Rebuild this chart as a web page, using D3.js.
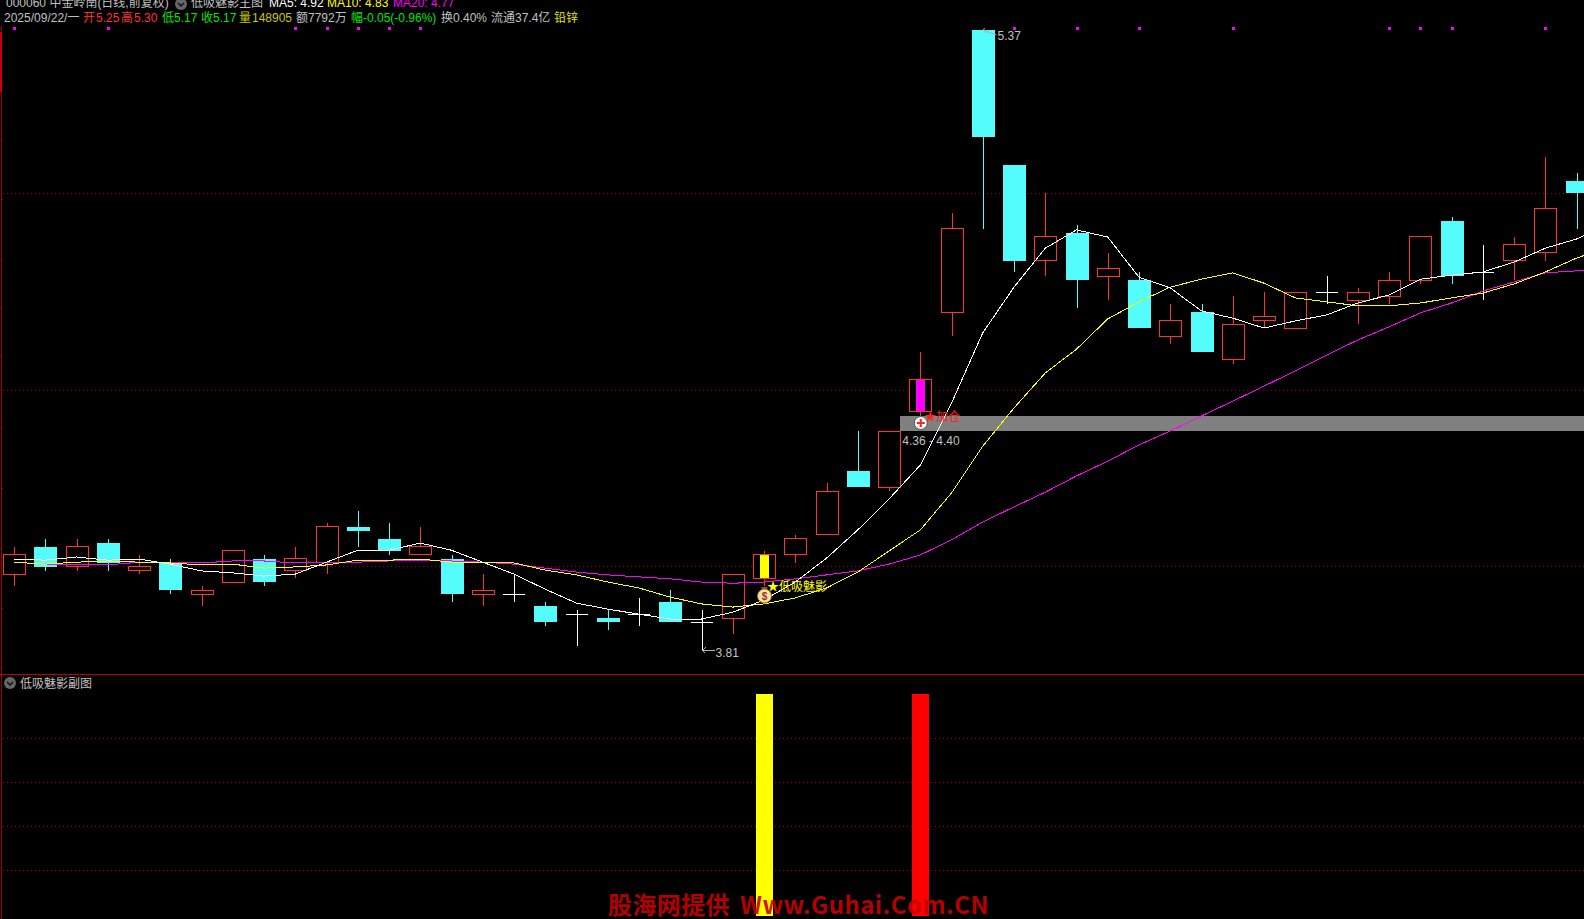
<!DOCTYPE html>
<html lang="zh-CN">
<head>
  <meta charset="UTF-8">
  <title>低吸魅影</title>
  <script src="https://d3js.org/d3.v7.min.js"></script>
  <style>
    html, body { margin: 0; padding: 0; background: #000; overflow: hidden; }
    svg { display: block; }
    text { font-family: "Liberation Sans", "Noto Sans CJK SC", sans-serif; font-size: 12px; }
    .crisp { shape-rendering: crispEdges; }
  </style>
</head>
<body>
<div id="chart"></div>
<script>
  const width = 1584;
  const height = 919;

  // candles
  const opens  = [4.00,4.07,4.02,4.08,4.01,4.03,3.95,3.98,4.04,4.01,4.03,4.12,4.09,4.05,4.04,3.95,3.95,3.92,3.90,3.89,3.90,3.93,3.88,3.89,3.99,4.05,4.10,4.26,4.22,4.41,4.66,5.37,5.03,4.79,4.86,4.75,4.74,4.60,4.66,4.54,4.64,4.62,4.71,4.69,4.70,4.74,4.89,4.76,4.79,4.81,4.99];
  const highs  = [4.07,4.09,4.09,4.09,4.05,4.04,3.97,4.06,4.05,4.07,4.13,4.16,4.13,4.12,4.05,4.00,4.00,3.93,3.91,3.91,3.94,3.96,3.91,4.00,4.06,4.10,4.23,4.36,4.36,4.56,4.91,5.37,5.03,4.96,4.88,4.81,4.76,4.68,4.68,4.70,4.71,4.71,4.75,4.72,4.76,4.85,4.90,4.83,4.85,5.05,5.01];
  const lows   = [3.97,4.01,4.01,4.01,4.00,3.95,3.92,3.98,3.97,3.99,4.00,4.07,4.05,4.05,3.93,3.92,3.93,3.87,3.82,3.86,3.87,3.88,3.81,3.85,3.97,4.03,4.10,4.22,4.21,4.40,4.60,4.87,4.76,4.75,4.67,4.69,4.62,4.58,4.56,4.53,4.62,4.62,4.68,4.63,4.68,4.73,4.73,4.69,4.74,4.79,4.87];
  const closes = [4.05,4.02,4.07,4.03,4.02,3.96,3.96,4.06,3.98,4.04,4.12,4.11,4.06,4.07,3.95,3.96,3.95,3.88,3.90,3.88,3.90,3.88,3.88,4.00,4.05,4.09,4.21,4.22,4.36,4.49,4.87,5.10,4.79,4.85,4.74,4.77,4.62,4.64,4.56,4.63,4.65,4.71,4.71,4.71,4.74,4.85,4.75,4.76,4.83,4.92,4.96];

  // moving averages (one more point than candles, the last runs off the right edge)
  const ma5  = [4.039,4.036,4.044,4.036,4.039,4.026,4.009,4.004,3.996,4.001,4.031,4.061,4.061,4.079,4.061,4.031,4.001,3.963,3.928,3.913,3.900,3.888,3.888,3.905,3.936,3.981,4.041,4.112,4.190,4.275,4.431,4.608,4.723,4.821,4.867,4.849,4.748,4.721,4.663,4.645,4.620,4.638,4.653,4.683,4.703,4.743,4.753,4.761,4.786,4.821,4.844,4.879];
  const ma10 = [4.031,4.026,4.031,4.034,4.031,4.029,4.024,4.026,4.016,4.019,4.024,4.036,4.036,4.039,4.031,4.031,4.029,4.011,3.999,3.981,3.966,3.943,3.926,3.918,3.926,3.941,3.966,4.006,4.059,4.112,4.205,4.323,4.419,4.507,4.567,4.643,4.686,4.723,4.743,4.759,4.733,4.696,4.686,4.676,4.676,4.683,4.696,4.708,4.731,4.761,4.796,4.824];
  const ma20 = [4.031,4.026,4.024,4.024,4.031,4.031,4.029,4.034,4.034,4.029,4.029,4.031,4.034,4.036,4.034,4.031,4.026,4.016,4.006,3.999,3.994,3.989,3.981,3.978,3.981,3.989,3.999,4.009,4.026,4.049,4.087,4.132,4.170,4.207,4.248,4.285,4.326,4.361,4.399,4.436,4.474,4.512,4.552,4.590,4.623,4.658,4.683,4.713,4.736,4.759,4.764,4.771];

  // days with a little magenta square along the top
  const topMarks = [0,3,9,10,11,12,13,32,34,36,39,44,45,46,49];
  const buyDay = 24;
  const addDay = 29;
  const zoneLow = 4.36;
  const zoneHigh = 4.40;
  const highDay = 31;
  const lowDay = 22;

  const gridPrices = [4.96,4.464,4.021];
  const tickPrices = [5.094,4.945,4.794,4.670,4.550,4.368,4.217,4.066,3.915,3.764];
  const subGrid = [0.2,0.4,0.6,0.8];
  const subBars = [{ day: buyDay, value: 1, color: "#ffff00" }, { day: addDay, value: 1, color: "#ff0000" }];

  const titleTexts = ["000060 中金岭南(日线,前复权)","低吸魅影主图","MA5: 4.92","MA10: 4.83","MA20: 4.77"];
  const titleX = [6,191,269,327,393];
  const titleColors = ["#c0c0c0","#c0c0c0","#ffffff","#ffff00","#ff00ff"];
  const infoTexts = ["2025/09/22/一","开","5.25","高","5.30","低5.17","收5.17","量","148905","额7792万","幅-0.05(-0.96%)","换0.40%","流通37.4亿","铅锌"];
  const infoX = [4,83,96,121,134,162,201,239,252,296,351,441,491,554];
  const infoColors = ["#c0c0c0","#ff3232","#ff3232","#ff3232","#ff3232","#00e600","#00e600","#c8c800","#c8c800","#c0c0c0","#00e600","#c0c0c0","#c0c0c0","#e6e600"];

  const red = "#ff3232";
  const cyan = "#54fcfc";
  const bodyW = 23;
  const days = d3.range(opens.length);

  const x = d3.scaleLinear().domain([0, 50]).range([14, 1576.5]);
  const y = d3.scaleLinear().domain([3.81, 5.37]).range([650, 30]);
  const ySub = d3.scaleLinear().domain([0, 1]).range([914.5, 694]);
  const px = i => Math.round(x(i));
  const py = v => Math.floor(y(v)) + 0.5;

  const svg = d3.select("#chart").append("svg")
    .attr("width", width)
    .attr("height", height)
    .attr("viewBox", [0, 0, width, height]);

  svg.append("rect").attr("width", width).attr("height", height).attr("fill", "#000");

  // dotted grid, both panels
  const grid = (scale, values, color) => {
    const g = svg.append("g").attr("class", "crisp")
      .attr("transform", "translate(3,0)")
      .call(d3.axisRight(scale).tickValues(values).tickSize(width).tickFormat(""));
    g.select(".domain").remove();
    g.selectAll("line").attr("stroke", color).attr("stroke-dasharray", "1,3");
  };
  grid(y, gridPrices, "#8c0000");
  grid(ySub, subGrid, "#a00000");

  // left edge line with ticks
  svg.append("line").attr("class", "crisp")
    .attr("x1", 1.5).attr("x2", 1.5).attr("y1", 26).attr("y2", height)
    .attr("stroke", "#a00000");
  svg.append("rect").attr("class", "crisp")
    .attr("x", 0).attr("y", 32).attr("width", 2).attr("height", 60).attr("fill", "#cc0000");
  const ticks = svg.append("g").attr("class", "crisp")
    .attr("transform", "translate(1,0)")
    .call(d3.axisRight(y).tickValues(tickPrices).tickSize(2).tickFormat(""));
  ticks.select(".domain").remove();
  ticks.selectAll("line").attr("stroke", "#a00000");

  // panel divider
  svg.append("line").attr("class", "crisp")
    .attr("x1", 0).attr("x2", width).attr("y1", 674.5).attr("y2", 674.5)
    .attr("stroke", "#c00000");

  // top marks
  svg.append("g").attr("class", "crisp").selectAll("rect")
    .data(topMarks)
    .join("rect")
    .attr("x", d => px(d) - 1)
    .attr("y", 27)
    .attr("width", 3)
    .attr("height", 3)
    .attr("fill", "#ff00ff");

  // zone band
  svg.append("rect").attr("class", "crisp")
    .attr("x", x(addDay) - 20)
    .attr("y", y(zoneHigh))
    .attr("width", width)
    .attr("height", y(zoneLow) - y(zoneHigh))
    .attr("fill", "#808080");

  // candles
  const candle = svg.append("g").attr("class", "crisp").selectAll("g")
    .data(days)
    .join("g");

  const candleColor = d => closes[d] === opens[d] ? "#ffffff" : closes[d] > opens[d] ? red : cyan;

  candle.append("line")
    .attr("x1", d => px(d) + 0.5)
    .attr("x2", d => px(d) + 0.5)
    .attr("y1", d => y(highs[d]))
    .attr("y2", d => y(lows[d]))
    .attr("stroke", candleColor);

  // rising = hollow, falling = filled, flat = a cross
  candle.filter(d => closes[d] > opens[d]).append("rect")
    .attr("x", d => px(d) - 11)
    .attr("y", d => py(closes[d]))
    .attr("width", bodyW - 1)
    .attr("height", d => py(opens[d]) - py(closes[d]))
    .attr("fill", "#000")
    .attr("stroke", red);

  candle.filter(d => closes[d] < opens[d]).append("rect")
    .attr("x", d => px(d) - 11)
    .attr("y", d => y(opens[d]))
    .attr("width", bodyW)
    .attr("height", d => y(closes[d]) - y(opens[d]))
    .attr("fill", cyan);

  candle.filter(d => closes[d] === opens[d]).append("line")
    .attr("x1", d => px(d) - 11)
    .attr("x2", d => px(d) + 11)
    .attr("y1", d => py(opens[d]))
    .attr("y2", d => py(opens[d]))
    .attr("stroke", "#ffffff");

  // signal fills inside the two flagged candles
  svg.append("g").attr("class", "crisp").selectAll("rect")
    .data([{ day: buyDay, color: "#ffff00" }, { day: addDay, color: "#ff00ff" }])
    .join("rect")
    .attr("x", d => px(d.day) - 4)
    .attr("y", d => py(closes[d.day]) + 0.5)
    .attr("width", 9)
    .attr("height", d => py(opens[d.day]) - py(closes[d.day]) - 1)
    .attr("fill", d => d.color);

  // MA lines
  const maLine = d3.line().x((d, i) => x(i)).y(d => y(d));
  [[ma20, "#ff00ff"], [ma10, "#ffff00"], [ma5, "#ffffff"]].forEach(([values, color]) => {
    svg.append("path")
      .attr("class", "crisp")
      .attr("d", maLine(values))
      .attr("fill", "none")
      .attr("stroke", color);
  });

  // high / low labels, each with a small arrow
  const hx = px(highDay) + 0.5;
  const hy = y(highs[highDay]);
  svg.append("path")
    .attr("d", `M${hx + 13},${hy + 5} L${hx},${hy} L${hx + 1},${hy - 2} M${hx},${hy} L${hx + 3},${hy + 3}`)
    .attr("fill", "none")
    .attr("stroke", "#b0b0b0");
  svg.append("text").attr("x", hx + 14).attr("y", hy + 10)
    .attr("fill", "#c0c0c0").text(highs[highDay].toFixed(2));
  const lx = px(lowDay) + 0.5;
  const ly = y(lows[lowDay]) + 0.5;
  svg.append("path")
    .attr("class", "crisp")
    .attr("d", `M${lx + 12},${ly} H${lx} M${lx},${ly} L${lx + 3},${ly - 3} M${lx},${ly} L${lx + 3},${ly + 3}`)
    .attr("fill", "none")
    .attr("stroke", "#b0b0b0");
  svg.append("text").attr("x", lx + 13).attr("y", ly + 6)
    .attr("fill", "#c0c0c0").text(lows[lowDay].toFixed(2));

  svg.append("text").attr("x", x(addDay) - 18).attr("y", y(zoneLow) + 14)
    .attr("fill", "#c0c0c0").text(`${zoneLow.toFixed(2)} - ${zoneHigh.toFixed(2)}`);

  // money bag + buy label
  const bag = svg.append("g").attr("transform", `translate(${x(buyDay) + 0.5},596)`);
  bag.append("path").attr("d", "M-3,-9 L3,-9 L2,-5 L-2,-5 Z").attr("fill", "#8a5a20");
  bag.append("circle").attr("r", 7).attr("fill", "#f6e3a0").attr("stroke", "#a06a20");
  bag.append("text").attr("y", 3.5).attr("text-anchor", "middle")
    .attr("fill", "#a03030").style("font-size", "10px").style("font-weight", "bold").text("$");
  svg.append("text").attr("x", x(buyDay) + 3).attr("y", 591)
    .attr("fill", "#ffff00").text("★低吸魅影");

  // add-position icon + label
  const plus = svg.append("g").attr("transform", `translate(${x(addDay) + 0.5},423)`);
  plus.append("circle").attr("r", 6.5).attr("fill", "#fff").attr("stroke", "#555");
  plus.append("path").attr("d", "M-4,0 H4 M0,-4 V4").attr("stroke", "#ff2020").attr("stroke-width", 2);
  svg.append("text").attr("x", x(addDay) + 4).attr("y", 421)
    .attr("fill", "#ff2020").text("★加仓");

  // lower panel bars, running down to the bottom of the panel
  svg.append("g").attr("class", "crisp").selectAll("rect")
    .data(subBars)
    .join("rect")
    .attr("x", d => px(d.day) - 8)
    .attr("y", d => ySub(d.value))
    .attr("width", 17)
    .attr("height", d => ySub(0) - ySub(d.value) + 1.5)
    .attr("fill", d => d.color);

  // round grey chevron buttons next to the titles
  const chevron = (cx, cy) => {
    const g = svg.append("g").attr("transform", `translate(${cx},${cy})`);
    g.append("circle").attr("r", 6).attr("fill", "#666");
    g.append("path").attr("d", "M-3,-1 L0,2 L3,-1").attr("fill", "none").attr("stroke", "#111").attr("stroke-width", 1.5);
  };
  chevron(181, 4);
  chevron(10, 683);

  // header rows
  svg.append("g").selectAll("text")
    .data(titleTexts)
    .join("text")
    .attr("x", (d, i) => titleX[i])
    .attr("y", 7)
    .attr("fill", (d, i) => titleColors[i])
    .text(d => d);
  svg.append("g").selectAll("text")
    .data(infoTexts)
    .join("text")
    .attr("x", (d, i) => infoX[i])
    .attr("y", 22)
    .attr("fill", (d, i) => infoColors[i])
    .text(d => d);
  svg.append("text").attr("x", 20).attr("y", 688).attr("fill", "#c0c0c0").text("低吸魅影副图");

  // site watermark, two runs so the latin part lines up
  const mark = svg.append("g")
    .attr("fill", "#c80000")
    .attr("fill-opacity", 0.92)
    .style("font-weight", "bold");
  mark.append("text")
    .attr("x", 608).attr("y", 914)
    .style("font-family", '"Noto Sans CJK SC", sans-serif')
    .style("font-size", "24px")
    .style("letter-spacing", "0.4px")
    .text("股海网提供");
  mark.append("text")
    .attr("x", 740).attr("y", 914)
    .style("font-family", '"Noto Sans CJK SC", sans-serif')
    .style("font-size", "24px")
    .style("letter-spacing", "0.45px")
    .text("Www.Guhai.Com.CN");
</script>
</body>
</html>
